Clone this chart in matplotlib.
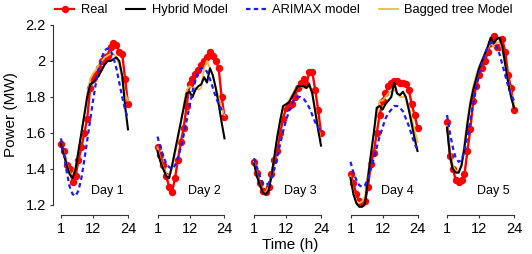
"""Five-day power profiles: measured vs. model forecasts."""

import matplotlib
matplotlib.use("Agg")
import matplotlib.pyplot as plt

plt.rcParams["font.family"] = ["Liberation Sans", "DejaVu Sans"]

# Hours of the day and values per day (MW)
hours = list(range(1, 25))
day_names = ["Day 1", "Day 2", "Day 3", "Day 4", "Day 5"]

real = [
    [1.54, 1.50, 1.42, 1.40, 1.33, 1.36, 1.45, 1.52, 1.60, 1.68, 1.85, 1.90,
     1.93, 1.96, 2.00, 2.02, 2.03, 2.08, 2.10, 2.09, 2.05, 2.04, 1.90, 1.76],
    [1.52, 1.48, 1.42, 1.36, 1.30, 1.27, 1.35, 1.45, 1.55, 1.63, 1.75, 1.87,
     1.90, 1.93, 1.95, 1.98, 2.00, 2.02, 2.05, 2.03, 2.00, 1.96, 1.80, 1.69],
    [1.44, 1.38, 1.32, 1.28, 1.27, 1.30, 1.37, 1.45, 1.50, 1.60, 1.68, 1.74,
     1.75, 1.76, 1.80, 1.85, 1.88, 1.90, 1.87, 1.94, 1.94, 1.84, 1.73, 1.60],
    [1.37, 1.32, 1.26, 1.22, 1.21, 1.22, 1.30, 1.43, 1.49, 1.60, 1.70, 1.78,
     1.82, 1.86, 1.88, 1.89, 1.89, 1.88, 1.88, 1.87, 1.84, 1.76, 1.70, 1.63],
    [1.66, 1.47, 1.40, 1.34, 1.33, 1.34, 1.37, 1.50, 1.62, 1.78, 1.86, 1.92,
     1.96, 2.00, 2.05, 2.10, 2.14, 2.08, 2.08, 2.12, 2.05, 1.92, 1.85, 1.73],
]

hybrid = [
    [1.54, 1.48, 1.42, 1.37, 1.35, 1.40, 1.50, 1.60, 1.70, 1.80, 1.87, 1.88,
     1.90, 1.92, 1.95, 1.98, 2.00, 2.00, 2.01, 2.02, 2.00, 1.92, 1.75, 1.62],
    [1.50, 1.44, 1.40, 1.36, 1.35, 1.42, 1.50, 1.58, 1.66, 1.74, 1.82, 1.83,
     1.80, 1.84, 1.86, 1.87, 1.91, 1.88, 1.96, 1.92, 1.85, 1.76, 1.66, 1.57],
    [1.43, 1.36, 1.31, 1.27, 1.26, 1.28, 1.36, 1.47, 1.58, 1.67, 1.75, 1.76,
     1.77, 1.80, 1.83, 1.86, 1.86, 1.86, 1.85, 1.87, 1.82, 1.72, 1.62, 1.53],
    [1.35, 1.26, 1.21, 1.19, 1.19, 1.21, 1.35, 1.48, 1.60, 1.74, 1.75, 1.73,
     1.76, 1.78, 1.80, 1.88, 1.82, 1.81, 1.83, 1.80, 1.73, 1.65, 1.57, 1.50],
    [1.63, 1.48, 1.40, 1.38, 1.38, 1.42, 1.52, 1.65, 1.76, 1.84, 1.90, 1.96,
     2.00, 2.04, 2.08, 2.13, 2.10, 2.12, 2.13, 2.08, 1.98, 1.88, 1.80, 1.74],
]

arimax = [
    [1.57, 1.48, 1.38, 1.30, 1.26, 1.25, 1.28, 1.35, 1.45, 1.56, 1.67, 1.78,
     1.88, 1.96, 2.02, 2.06, 2.07, 2.06, 2.02, 1.96, 1.88, 1.80, 1.73, 1.68],
    [1.58, 1.52, 1.47, 1.43, 1.41, 1.40, 1.42, 1.46, 1.52, 1.59, 1.67, 1.75,
     1.83, 1.89, 1.94, 1.96, 1.96, 1.94, 1.90, 1.85, 1.80, 1.76, 1.73, 1.71],
    [1.46, 1.41, 1.36, 1.32, 1.31, 1.32, 1.35, 1.40, 1.47, 1.54, 1.61, 1.67,
     1.72, 1.76, 1.79, 1.80, 1.80, 1.79, 1.77, 1.74, 1.70, 1.66, 1.63, 1.61],
    [1.44, 1.38, 1.34, 1.31, 1.30, 1.31, 1.35, 1.40, 1.46, 1.52, 1.58, 1.63,
     1.68, 1.71, 1.73, 1.75, 1.75, 1.74, 1.72, 1.68, 1.64, 1.59, 1.54, 1.51],
    [1.70, 1.60, 1.52, 1.46, 1.44, 1.45, 1.50, 1.58, 1.67, 1.76, 1.85, 1.93,
     1.99, 2.04, 2.08, 2.10, 2.10, 2.08, 2.04, 1.98, 1.92, 1.86, 1.81, 1.78],
]

bagged = [
    [1.54, 1.49, 1.43, 1.38, 1.36, 1.42, 1.50, 1.60, 1.70, 1.82, 1.90, 1.93,
     1.95, 1.98, 2.00, 2.02, 2.03, 2.04, 2.04, 2.02, 1.98, 1.90, 1.82, 1.78],
    [1.52, 1.45, 1.41, 1.37, 1.36, 1.40, 1.48, 1.56, 1.66, 1.76, 1.84, 1.86,
     1.85, 1.85, 1.84, 1.85, 1.96, 2.00, 1.96, 1.92, 1.85, 1.80, 1.74, 1.70],
    [1.44, 1.37, 1.31, 1.27, 1.27, 1.30, 1.37, 1.47, 1.58, 1.67, 1.74, 1.76,
     1.78, 1.81, 1.84, 1.86, 1.86, 1.85, 1.85, 1.86, 1.82, 1.74, 1.64, 1.56],
    [1.36, 1.27, 1.22, 1.21, 1.22, 1.25, 1.38, 1.48, 1.60, 1.70, 1.78, 1.78,
     1.80, 1.82, 1.83, 1.84, 1.82, 1.80, 1.80, 1.80, 1.75, 1.68, 1.62, 1.55],
    [1.64, 1.50, 1.42, 1.39, 1.38, 1.43, 1.55, 1.67, 1.78, 1.86, 1.92, 1.97,
     2.01, 2.04, 2.07, 2.10, 2.08, 2.10, 2.11, 2.06, 1.98, 1.89, 1.82, 1.76],
]

W, H = 532, 254
fig = plt.figure(figsize=(W / 100, H / 100), dpi=100)

px_per_hour = 67 / 23
for i, name in enumerate(day_names):
    x1 = 61 + 96.5 * i  # pixel of hour 1
    left = x1 - 0.5 * px_per_hour
    width = 24 * px_per_hour
    ax = fig.add_axes([left / W, (H - 205) / H, width / W, 180 / H])
    ax.patch.set_alpha(0)

    ax.plot(hours, real[i], color="#ff0000", lw=1.7, marker="o", ms=4.3,
            clip_on=False, zorder=2)
    ax.plot(hours, bagged[i], color="#f4b942", lw=1.3, clip_on=False, zorder=3)
    ax.plot(hours, hybrid[i], color="black", lw=1.5, clip_on=False, zorder=4)
    ax.plot(hours, arimax[i], color="#1a1aff", lw=1.6, ls=(0, (2, 1.5)),
            clip_on=False, zorder=5)

    ax.set_xlim(0.5, 24.5)
    ax.set_ylim(1.2, 2.2)
    ax.text(17, 1.28, name, ha="center", va="center", fontsize=9)

    for s in ("top", "right"):
        ax.spines[s].set_visible(False)
    ax.spines["bottom"].set_position(("outward", 7))
    ax.spines["bottom"].set_bounds(1, 24)
    ax.spines["bottom"].set_color("#333333")
    ax.set_xticks([1, 12, 24])
    ax.tick_params(axis="x", labelsize=10.5, length=2.5, pad=3, color="#333333")

    if i == 0:
        ax.spines["left"].set_position(("outward", 4.5))
        ax.spines["left"].set_bounds(1.2, 2.2)
        ax.spines["left"].set_color("#333333")
        ax.set_yticks([1.2, 1.4, 1.6, 1.8, 2.0, 2.2])
        ax.set_yticklabels(["1.2", "1.4", "1.6", "1.8", "2", "2.2"])
        ax.tick_params(axis="y", labelsize=10.5, length=2.5, pad=3, color="#333333")
        ax.set_ylabel("Power (MW)", fontsize=11, labelpad=5)
    else:
        ax.spines["left"].set_visible(False)
        ax.set_yticks([])

fig.text(290 / W, 1 - 245 / H, "Time (h)", ha="center", va="center", fontsize=11)

handles = [
    plt.Line2D([0], [0], color="#ff0000", lw=1.6, marker="o", ms=4.3),
    plt.Line2D([0], [0], color="black", lw=1.5),
    plt.Line2D([0], [0], color="#1a1aff", lw=1.6, ls=(0, (2, 1.5))),
    plt.Line2D([0], [0], color="#f4b942", lw=1.3),
]
labels = ["Real", "Hybrid Model", "ARIMAX model", "Bagged tree Model"]
fig.legend(handles, labels, loc="center left", bbox_to_anchor=(55 / W, 1 - 10 / H),
           ncol=4, frameon=False, fontsize=9.3, handlelength=1.5,
           handletextpad=0.5, columnspacing=1.45, borderaxespad=0, borderpad=0)

fig.savefig("out.png", dpi=100)
